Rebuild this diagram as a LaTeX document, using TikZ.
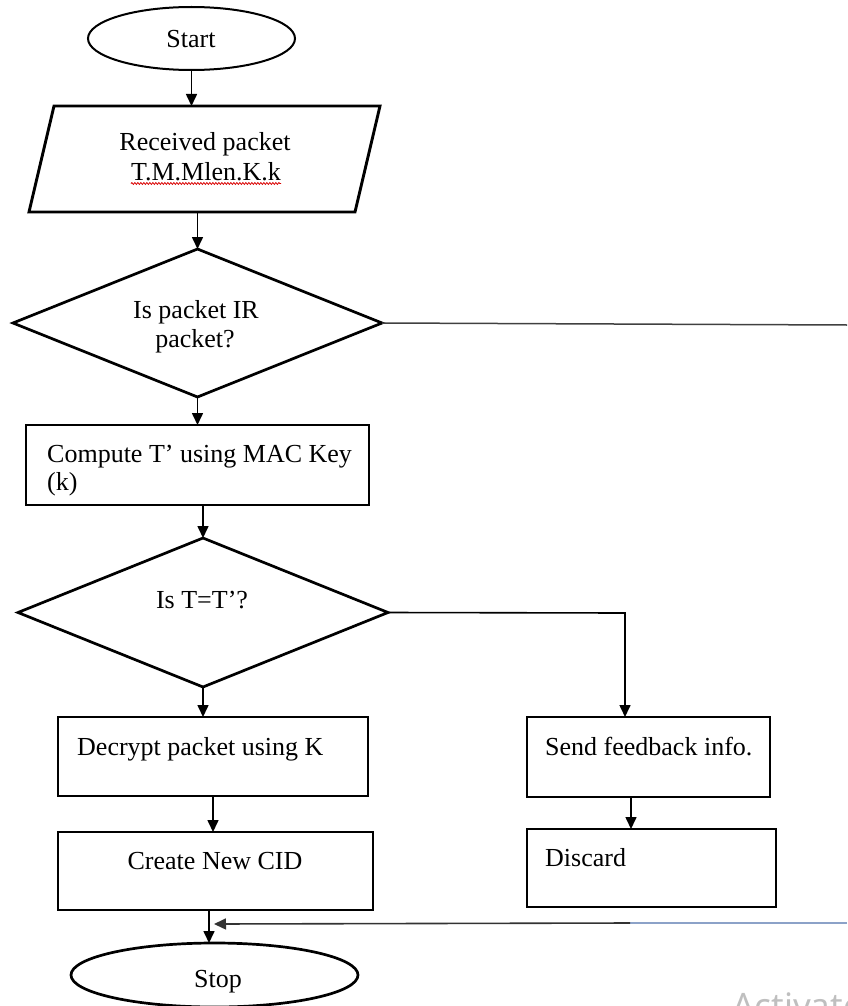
\documentclass[tikz,border=0pt]{standalone}
\usepackage{fontspec}
\setmainfont{Liberation Serif}
\newfontfamily\wmfont{Noto Sans}
\usetikzlibrary{shapes.geometric,arrows.meta,calc,decorations.pathmorphing}
\definecolor{fadeblue}{RGB}{140,162,200}
\begin{document}
\begin{tikzpicture}[x=1pt,y=-1pt,
  box/.style={draw, rectangle, line width=2.9pt, inner sep=0pt, outer sep=0pt},
  dia/.style={draw, diamond, line width=2.7pt, inner sep=0pt, outer sep=0pt},
  term/.style={draw, ellipse, inner sep=0pt, outer sep=0pt},
  arr/.style={line width=1.6pt, -{Triangle[length=12pt,width=11pt]}},
  txt/.style={inner sep=0pt, font=\fontsize{26}{30}\selectfont}]
\useasboundingbox (0,0) rectangle (847,1006);
\clip (0,0) rectangle (847,1006);

% shapes
\node[term, line width=2pt, minimum width=207pt, minimum height=63pt] (start) at (191.5,38.5) {};
\node[inner sep=0pt, outer sep=0pt, minimum width=326pt, minimum height=106pt] (recv) at (217,159) {};
\draw[line width=2.9pt, line join=miter] (recv.north west) -- (recv.north east)
  -- ($(recv.south east)+(-25,0)$) -- ($(recv.south west)+(-25,0)$) -- cycle;
\node[dia, minimum width=369pt, minimum height=148pt] (d1) at (197.5,323) {};
\node[box, minimum width=343pt, minimum height=80pt] (comp) at (197.5,465) {};
\node[dia, minimum width=370pt, minimum height=149pt] (d2) at (203,612.5) {};
\node[box, minimum width=310pt, minimum height=79pt] (dec) at (213,756.5) {};
\node[box, minimum width=243pt, minimum height=80pt] (fb) at (648.5,757) {};
\node[box, minimum width=315pt, minimum height=78pt] (cr) at (215.5,871) {};
\node[box, minimum width=249pt, minimum height=78pt] (disc) at (651.5,868) {};
\node[term, line width=2.7pt, minimum width=287pt, minimum height=64pt] (stop) at (214.5,975) {};

% texts
\node[txt, anchor=base] (tstart) at (191,48) {Start};
\node[txt, anchor=base] (trecva) at (205,150) {Received packet};
\node[txt, anchor=base] (trecvb) at (206,180) {T.M.Mlen.K.k};
\draw[red!85!black, line width=0.8pt, decorate, decoration={snake, amplitude=0.9pt, segment length=3pt}]
  ($(trecvb.base west)+(0,3.5)$) -- ($(trecvb.base east)+(0,3.5)$);
\node[txt, anchor=base] (tda) at (196,318) {Is packet IR};
\node[txt, anchor=base] (tdb) at (195,347) {packet?};
\node[txt, anchor=base west] (tca) at (47,462) {Compute T’ using MAC Key};
\node[txt, anchor=base west] (tcb) at (47,490) {(k)};
\node[txt, anchor=base] (tdc) at (202,608) {Is T=T’?};
\node[txt, anchor=base west] (tdec) at (77,755) {Decrypt packet using K};
\node[txt, anchor=base west] (tfb) at (545,755) {Send feedback info.};
\node[txt, anchor=base] (tcr) at (215,869) {Create New CID};
\node[txt, anchor=base west] (tdisc) at (545,866) {Discard};
\node[txt, anchor=base] (tstop) at (218,987) {Stop};
\node[anchor=base west, inner sep=0pt, text=black!25, font=\wmfont\fontsize{35}{42}\selectfont] (wm) at (732,1018) {Activate Windows};

% connectors
\draw[arr] (start) -- (start |- recv.north);
\draw[arr] (d1.north |- recv.south) -- (d1.north);
\draw[arr] (d1.south) -- (d1.south |- comp.north);
\draw[arr] (d2.north |- comp.south) -- (d2.north);
\draw[arr] (d2.south) -- (d2.south |- dec.north);
\coordinate (turn) at (625,613);
\draw[arr] (d2.east) -- (turn) -- (turn |- fb.north);
\draw[arr] ($(fb.south)+(-17.5,0)$) -- ($(disc.north)+(-20.5,0)$);
\draw[arr] (dec.south) -- (dec.south |- cr.north);
\draw[arr] ($(cr.south)+(-6.5,0)$) -- ($(stop.north)+(-5.5,0)$);
\coordinate (exit) at (847,325);
\draw[line width=1.5pt, black!75] (d1.east) -- (exit);
\coordinate (back) at (847,923);
\coordinate (fade) at (630,923);
\coordinate (join) at (214,924);
\draw[line width=1.5pt, fadeblue] (back) -- (fade);
\draw[arr, black!80] (fade) -- (join);
\end{tikzpicture}
\end{document}
